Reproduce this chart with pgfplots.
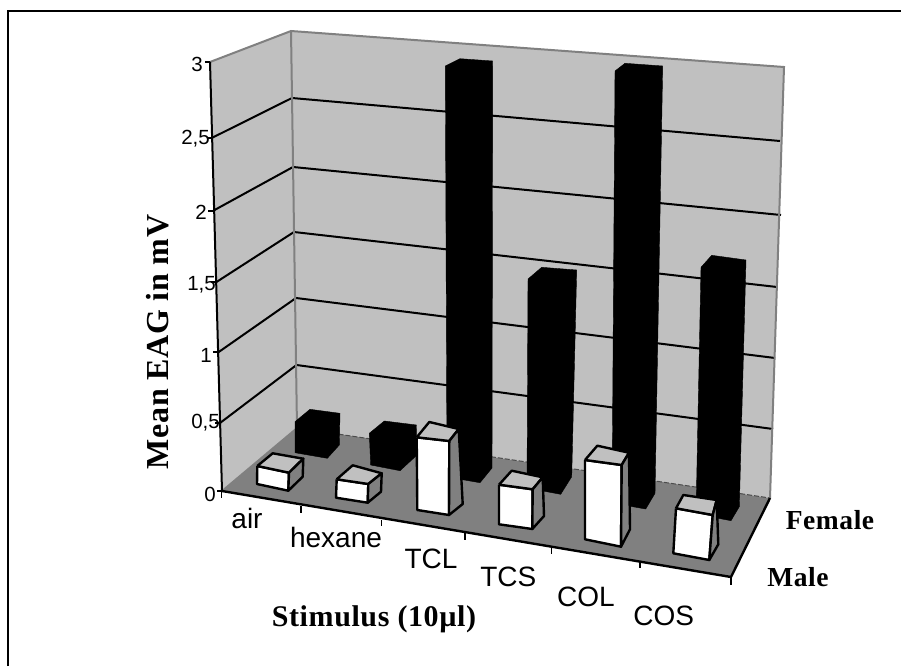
\documentclass[border=0pt]{standalone}
\usepackage{fontspec}
\usepackage{pgfplots}
\pgfplotsset{compat=1.18}
\setmainfont{Liberation Sans}
\newfontfamily\labelfont[LetterSpace=2]{Liberation Serif}
\definecolor{wall}{HTML}{C0C0C0}
\definecolor{floorgray}{HTML}{808080}
\newcommand{\ticklab}[1]{\fontsize{20.5}{24}\selectfont #1}
\newcommand{\catlab}[1]{\fontsize{28}{32}\selectfont #1}
\newcommand{\boldlab}[2]{\fontsize{#1}{#1}\selectfont\labelfont\bfseries #2}
% male bar: front TL, TR, BR, BL, then back top left, back top right, back bottom right
\newcommand{\malebar}[7]{
  \addplot[fill=white,draw=black,line width=2.4pt,line join=round] coordinates {(#1) (#2) (#3) (#4) (#1)};
  \addplot[fill=wall,draw=black,line width=2.4pt,line join=round] coordinates {(#1) (#5) (#6) (#2) (#1)};
  \addplot[fill=floorgray,draw=black,line width=2.4pt,line join=round] coordinates {(#2) (#6) (#7) (#3) (#2)};
}
\begin{document}
\begin{tikzpicture}
\useasboundingbox (0,0) rectangle (901pt,666pt);
\begin{axis}[
    at={(0,0)}, anchor=south west,
    width=901pt, height=666pt, scale only axis,
    xmin=0, xmax=901, ymin=0, ymax=666,
    y dir=reverse,
    hide axis,
    no marks,
]
% outer frame, top and left only
\addplot[black,line width=2.6pt] coordinates {(8,666) (8,11) (901,11)};

% walls and floor
\addplot[fill=wall,draw=none] coordinates {(210,62) (291,31) (297,428) (222,491) (210,62)};
\addplot[fill=wall,draw=none] coordinates {(291,31) (784,67) (770,498) (297,428) (291,31)};
\addplot[fill=floorgray,draw=none] coordinates {(222,491) (297,428) (770,498) (731,577) (222,491)};
\addplot[floorgray,line width=1.8pt] coordinates {(222,491) (297,428)};
\addplot[black!70,line width=1pt,dash pattern=on 5pt off 2pt] coordinates {(297,428) (770,498)};

% gridlines 0.5 .. 2.5
\addplot[black,line width=2pt] coordinates {(220,423) (296.5,365) (773,429)};
\addplot[black,line width=2pt] coordinates {(218.3,352.3) (296,298) (775,358)};
\addplot[black,line width=2pt] coordinates {(216,282.3) (294,232) (777,287)};
\addplot[black,line width=2pt] coordinates {(213.3,210.7) (293,167) (781,215)};
\addplot[black,line width=2pt] coordinates {(212.3,137.7) (292,98) (780,141)};

% wall edges
\addplot[floorgray,line width=2pt] coordinates {(210,62) (291,31) (784,67) (770,498)};
\addplot[floorgray,line width=2pt] coordinates {(291,31) (297,428)};

% value axis with ticks
\addplot[black,line width=2pt] coordinates {(210,62) (222,491)};
\addplot[black,line width=1.4pt] coordinates {(205,62) (210,62)};
\addplot[black,line width=1.4pt] coordinates {(207,138) (212.3,138)};
\addplot[black,line width=1.4pt] coordinates {(208,211) (213.3,211)};
\addplot[black,line width=1.4pt] coordinates {(211,282) (216,282)};
\addplot[black,line width=1.4pt] coordinates {(213,352) (218.3,352)};
\addplot[black,line width=1.4pt] coordinates {(215,423) (220,423)};
\addplot[black,line width=1.4pt] coordinates {(217,491) (222,491)};

% floor front and side edge, category ticks
\addplot[black,line width=2.4pt] coordinates {(222,491) (731,577) (770,498)};
\addplot[black,line width=1.4pt] coordinates {(221.7,491) (221.7,498)};
\addplot[black,line width=1.4pt] coordinates {(301,506) (301,513)};
\addplot[black,line width=1.4pt] coordinates {(381.7,520) (381.7,526)};
\addplot[black,line width=1.4pt] coordinates {(465,533) (465,540)};
\addplot[black,line width=1.4pt] coordinates {(551.7,548) (551.7,554)};
\addplot[black,line width=1.4pt] coordinates {(640,562) (640,568)};
\addplot[black,line width=1.4pt] coordinates {(731,577) (731,585)};

% female bars, back row (about 0.35, 0.35, 3, 1.6, 3, 1.7 mV)
\addplot[fill=black,draw=black] coordinates {(295,421.7) (310,409.3) (340,413.3) (339.3,445) (327.3,458.3) (295,452.7) (295,421.7)};
\addplot[fill=black,draw=black] coordinates {(369.3,433.3) (384.3,421) (416.5,425) (416,456) (400,470.7) (370.7,465) (369.3,433.3)};
\addplot[fill=black,draw=black] coordinates {(445.3,66) (460,58.7) (492.7,61) (492,468) (480,482.7) (447,477) (445.3,66)};
\addplot[fill=black,draw=black] coordinates {(528,279) (541.7,267.3) (576.7,270) (571.7,476.7) (560.7,494.3) (527,488) (528,279)};
\addplot[fill=black,draw=black] coordinates {(615,71) (625,63.3) (662.7,66) (655,493.3) (645.7,509) (612,503) (615,71)};
\addplot[fill=black,draw=black] coordinates {(701,267.3) (711.7,255.3) (746,260) (739.3,506.7) (731,520.7) (696,514) (701,267.3)};

% male bars, front row (about 0.13, 0.13, 0.55, 0.3, 0.6, 0.35 mV)
\malebar{257.3,466}{289,472.7}{288.3,490.7}{257,484}{272.7,453.3}{303.3,458.7}{302.7,476.7}
\malebar{336.7,479.3}{368.3,484}{367.7,502.7}{336,497.7}{352.7,465.3}{381.7,473.3}{381,491.7}
\malebar{416.7,437.3}{449.3,441}{449,515}{417.3,510}{429.3,422}{458.7,429}{462.7,504}
\malebar{499,484.7}{532.7,489.3}{532.3,529}{499,524.3}{511.7,470.7}{542.7,477.3}{544,516}
\malebar{585,460}{621.7,465}{621,546.7}{585,539.3}{597.3,445.7}{629,452.7}{630,529.3}
\malebar{676,508.3}{712.7,515}{709.3,560}{673.3,553.3}{683.3,495}{716.7,500}{718.3,544.3}

% value labels
\node[anchor=east,inner sep=0pt] at (axis cs:203,64) {\ticklab{3}};
\node[anchor=east,inner sep=0pt] at (axis cs:210,139) {\ticklab{2,5}};
\node[anchor=east,inner sep=0pt] at (axis cs:207,212) {\ticklab{2}};
\node[anchor=east,inner sep=0pt] at (axis cs:216,285) {\ticklab{1,5}};
\node[anchor=east,inner sep=0pt] at (axis cs:212,355) {\ticklab{1}};
\node[anchor=east,inner sep=0pt] at (axis cs:220,423) {\ticklab{0,5}};
\node[anchor=east,inner sep=0pt] at (axis cs:216,494) {\ticklab{0}};

% category labels
\node[anchor=base,inner sep=0pt] at (axis cs:247,528.3) {\catlab{air}};
\node[anchor=base,inner sep=0pt] at (axis cs:336,547.7) {\catlab{hexane}};
\node[anchor=base,inner sep=0pt] at (axis cs:431,568.3) {\catlab{TCL}};
\node[anchor=base,inner sep=0pt] at (axis cs:508.3,586.7) {\catlab{TCS}};
\node[anchor=base,inner sep=0pt] at (axis cs:586,606) {\catlab{COL}};
\node[anchor=base,inner sep=0pt] at (axis cs:663.7,625) {\catlab{COS}};

% axis titles and series names
\node[anchor=base,inner sep=0pt] at (axis cs:374,626) {\boldlab{30}{Stimulus (10µl)}};
\node[anchor=base,inner sep=0pt,rotate=90] at (axis cs:168,342) {\boldlab{32}{Mean EAG in mV}};
\node[anchor=base,inner sep=0pt] at (axis cs:830,529) {\boldlab{27.5}{Female}};
\node[anchor=base,inner sep=0pt] at (axis cs:798,586.7) {\boldlab{27.5}{Male}};
\end{axis}
\end{tikzpicture}
\end{document}
